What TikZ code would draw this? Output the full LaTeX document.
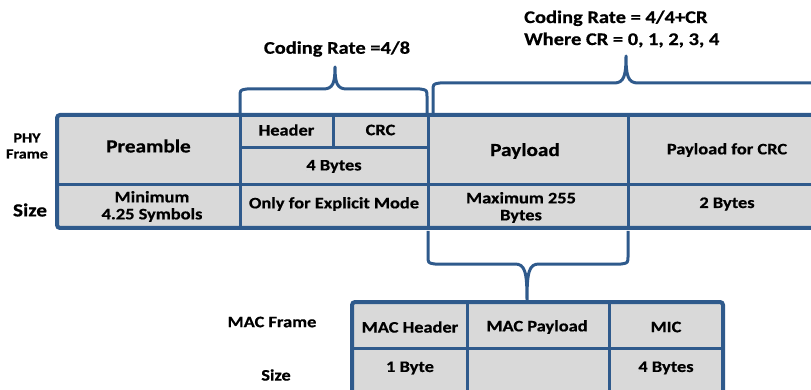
\documentclass[tikz,border=0pt]{standalone}
\usepackage{fontspec}
\setmainfont{Carlito}[FakeStretch=1.15, BoldFeatures={FakeBold=0.6}]
\definecolor{lineblue}{HTML}{2F5A8C}
\definecolor{cellgray}{HTML}{D9D9D9}
\begin{document}
\begin{tikzpicture}[x=1pt,y=-1pt,
  txt/.style={font=\bfseries\fontsize{16}{17}\selectfont, align=center, inner sep=0pt, text=black},
  big/.style={txt, font=\bfseries\fontsize{18.5}{20}\selectfont},
  lbl/.style={txt, font=\bfseries\fontsize{17.8}{22}\selectfont},
  gridline/.style={draw=lineblue, line width=3pt},
  outer/.style={draw=lineblue, line width=4pt, rounded corners=3pt},
  brace/.style={draw=lineblue, line width=3pt, line join=round, line cap=butt}]
\useasboundingbox (0,0) rectangle (811,390);
\clip (0,0) rectangle (811,390);

% ---------- PHY frame table ----------
\fill[cellgray, rounded corners=3pt] (57,115) rectangle (840,228);
\draw[gridline] (57,185) -- (840,185);
\draw[gridline] (240,115) -- (240,228);
\draw[gridline] (428,115) -- (428,228);
\draw[gridline] (628,115) -- (628,228);
\draw[gridline] (240,148) -- (428,148);
\draw[gridline] (333,115) -- (333,148);
\draw[outer] (57,115) rectangle (840,228);

\node[txt, font=\bfseries\fontsize{14}{16}\selectfont] (phy) at (27,146) {PHY\\Frame};
\node[txt, font=\bfseries\fontsize{18.5}{20}\selectfont] (size1) at (30,210) {Size};
\node[big] (pre) at (148.5,146) {Preamble};
\node[txt] (hdr) at (286.5,130) {Header};
\node[txt] (crc) at (380.5,130) {CRC};
\node[txt] (fourb) at (334,166.5) {4 Bytes};
\node[big] (pay) at (525,151) {Payload};
\node[txt] (paycrc) at (727,150) {Payload for CRC};
\node[txt] (minsym) at (152,206.5) {Minimum\\4.25 Symbols};
\node[txt] (expl) at (334,204) {Only for Explicit Mode};
\node[txt] (max) at (521,207.5) {Maximum 255\\Bytes};
\node[txt] (twob) at (727,204) {2 Bytes};

% ---------- MAC frame table ----------
\fill[cellgray, rounded corners=3pt] (352,302) rectangle (723,410);
\draw[gridline] (352,348) -- (723,348);
\draw[gridline] (467,302) -- (467,410);
\draw[gridline] (609,302) -- (609,410);
\draw[outer] (352,302) rectangle (723,410);

\node[txt] (macf) at (272,322) {MAC Frame};
\node[txt] (size2) at (276,375) {Size};
\node[txt] (mach) at (410,327) {MAC Header};
\node[txt] (macp) at (537,327) {MAC Payload};
\node[txt] (mic) at (666,327) {MIC};
\node[txt] (oneb) at (410,368) {1 Byte};
\node[txt] (fourb2) at (666,368) {4 Bytes};

% ---------- braces ----------
% left top brace
\draw[brace] (240,114) -- (240,97) .. controls (240,90) .. (247,89) -- (323,89)
  .. controls (333,89) and (335,83) .. (335,67)
  .. controls (335,83) and (337,89) .. (347,89) -- (420,89)
  .. controls (427,90) .. (427,97) -- (427,114);
% right top brace
\draw[brace] (433,114) -- (433,91) .. controls (433,84) .. (440,83) -- (614,83)
  .. controls (624,83) and (626,76) .. (626,56)
  .. controls (626,76) and (628,83) .. (638,83) -- (850,83);
% bottom brace
\draw[brace] (428,231) -- (428,256) .. controls (428,263) .. (435,264) -- (515,264)
  .. controls (525,264) and (527,272) .. (527,300)
  .. controls (527,272) and (529,264) .. (539,264) -- (621,264)
  .. controls (628,263) .. (628,256) -- (628,231);

\node[lbl] (cr1) at (337,49) {Coding Rate =4/8};
\node[lbl, align=left, anchor=west] (cr2) at (524,29) {Coding Rate = 4/4+CR\\Where CR = 0, 1, 2, 3, 4};
\end{tikzpicture}
\end{document}
